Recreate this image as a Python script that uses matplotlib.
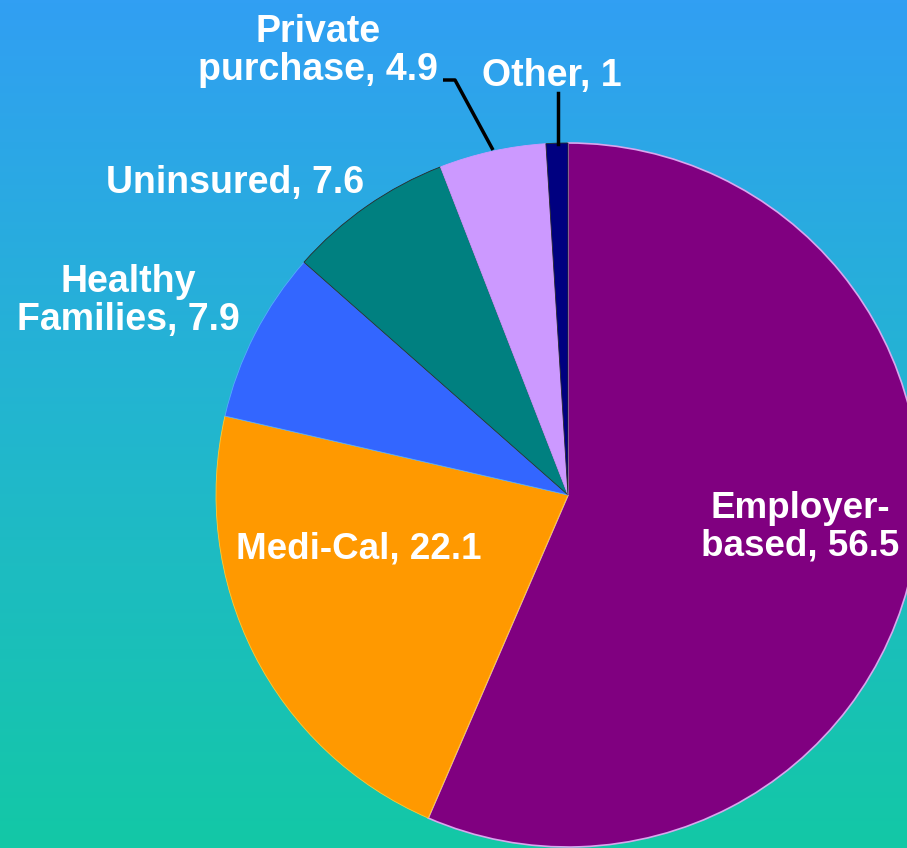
import numpy as np
import matplotlib.pyplot as plt
from matplotlib.colors import LinearSegmentedColormap

# Health coverage shares (percent)
labels = ["Employer-\nbased, 56.5", "Medi-Cal, 22.1", "Healthy\nFamilies, 7.9",
          "Uninsured, 7.6", "Private\npurchase, 4.9", "Other, 1"]
values = [56.5, 22.1, 7.9, 7.6, 4.9, 1.0]
colors = ["#800080", "#ff9900", "#3366ff", "#008080", "#cc99ff", "#000080"]

W, H = 907, 848
fig = plt.figure(figsize=(W / 100, H / 100), dpi=100)
ax = fig.add_axes([0, 0, 1, 1])

# gradient background, blue at top to teal at bottom
bg = LinearSegmentedColormap.from_list("bg", ["#319ff3", "#22b6cf", "#13c8a6"])
grad = np.linspace(0, 1, 256).reshape(-1, 1)
ax.imshow(grad, cmap=bg, extent=[0, W, -H, 0], aspect="auto", zorder=0)

cx, cy, r = 568, -495, 352
wedges, _ = ax.pie(values, colors=colors, startangle=90, counterclock=False,
                   center=(cx, cy), radius=r,
                   wedgeprops=dict(linewidth=0.6, edgecolor="#2a2a2a"))
for w in wedges:
    w.set_zorder(2)
wedges[0].set_edgecolor("#d9a6ee")
wedges[0].set_linewidth(1.2)
wedges[1].set_edgecolor("#ffcc33")
wedges[2].set_edgecolor("#55aaff")
wedges[4].set_edgecolor("#cc99ff")

ax.set_xlim(0, W)
ax.set_ylim(-H, 0)
ax.set_aspect("auto")
ax.axis("off")

font = dict(color="white", fontweight="bold", family="Liberation Sans",
            fontsize=26.5, ha="center", va="center", linespacing=1.08, zorder=5)
outer = dict(font, fontsize=27, fontstretch="expanded")
pos = [(800, -527), (359, -549), (128, -301), (235, -183), (318, -51), (552, -76)]
for i, (lab, (x, y)) in enumerate(zip(labels, pos)):
    ax.text(x, y, lab, **(font if i < 2 else outer))

# leader lines for the two small slices
ax.plot([443, 455, 493], [-80, -80, -150], color="black", lw=2.5, zorder=4,
        solid_capstyle="butt")
ax.plot([558, 558], [-93, -144], color="black", lw=2.5, zorder=4)

fig.savefig("out.png", dpi=100)
